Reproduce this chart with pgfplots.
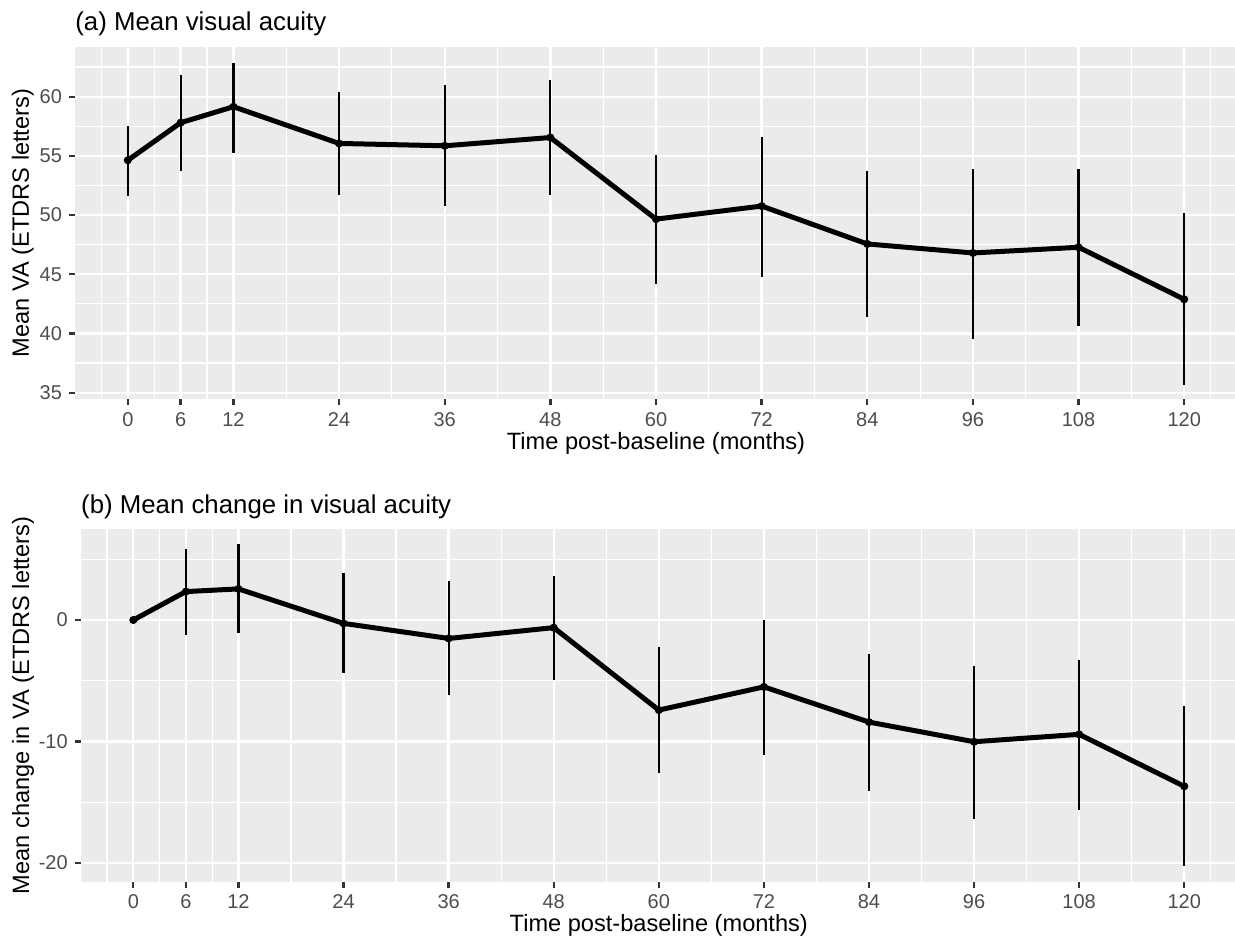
\documentclass[border=0pt]{standalone}
\usepackage{pgfplots}
\pgfplotsset{compat=1.18}
\usepackage{pgfplotstable}
\usepackage{fontspec}
\setmainfont{Liberation Sans}
\definecolor{panelbg}{HTML}{EBEBEB}
\definecolor{tickcol}{HTML}{333333}
\definecolor{ticklab}{HTML}{4D4D4D}

% month, mean, error up, error down
\pgfplotstableread{
x    y      ep    em
0    54.63  2.91  3.02
6    57.80  4.04  4.07
12   59.15  3.73  3.87
24   56.05  4.35  4.33
36   55.85  5.11  5.06
48   56.55  4.86  4.88
60   49.66  5.45  5.47
72   50.76  5.81  5.96
84   47.56  6.18  6.18
96   46.80  7.13  7.25
108  47.28  6.60  6.61
120  42.89  7.25  7.27
}\vadata

\pgfplotstableread{
x    y       ep    em
0    0.00    0.00  0.00
6    2.34    3.53  3.58
12   2.56    3.67  3.61
24   -0.28   4.11  4.05
36   -1.52   4.74  4.68
48   -0.63   4.29  4.33
60   -7.42   5.17  5.18
72   -5.51   5.51  5.59
84   -8.41   5.62  5.70
96   -10.03  6.28  6.35
108  -9.42   6.13  6.20
120  -13.70  6.58  6.57
}\chgdata

\pgfplotsset{
  gg/.style={
    scale only axis,
    anchor=north west,
    axis background/.style={fill=panelbg},
    axis line style={draw=none},
    grid=both,
    major grid style={white, line width=1.15pt},
    minor grid style={white, line width=0.58pt},
    xmin=-6, xmax=126,
    xtick={0,6,12,24,36,48,60,72,84,96,108,120},
    minor xtick={-3,3,9,18,30,42,54,66,78,90,102,114,123},
    tick align=outside,
    major tick length=3pt,
    minor tick length=0pt,
    xtick pos=left, ytick pos=left,
    tick style={draw=tickcol, line width=1.15pt},
    ticklabel style={font=\fontsize{10}{11}\selectfont, text=ticklab},
    /pgf/number format/assume math mode=true,
    label style={font=\fontsize{11.8}{13}\selectfont},
    xlabel style={at={(axis description cs:0.5,-0.141)}, anchor=base},
    title style={font=\fontsize{12.9}{15}\selectfont, at={(axis description cs:0,1)},
      anchor=base west, inner sep=0pt, yshift=2pt},
    xlabel={Time post-baseline (months)},
  },
  ebar/.style={draw=none, mark=none, forget plot,
    error bars/.cd, y dir=both, y explicit, error mark=none,
    error bar style={draw=black, line width=1.1pt, solid}},
  mline/.style={black, line width=2.5pt, mark=*, mark size=1.8pt,
    mark options={line width=0.4pt, fill=black}},
}

\begin{document}
\begin{tikzpicture}
\begin{axis}[gg,
  at={(37.5pt,-23.35pt)}, width=581pt, height=176.3pt,
  ymin=34.44, ymax=64.22,
  ytick={35,40,45,50,55,60},
  minor ytick={37.5,42.5,47.5,52.5,57.5,62.5},
  ylabel={Mean VA (ETDRS letters)},
  ylabel style={at={(axis description cs:-0.045,0.5)}, anchor=center},
  title={(a) Mean visual acuity},
]
\addplot[ebar] table[x=x, y=y, y error plus=ep, y error minus=em] {\vadata};
\addplot[mline] table[x=x, y=y] {\vadata};
\end{axis}

\begin{axis}[gg,
  at={(40.4pt,-264.65pt)}, width=578pt, height=176.2pt,
  ymin=-21.56, ymax=7.47,
  ytick={-20,-10,0},
  minor ytick={-15,-5,5},
  ylabel={Mean change in VA (ETDRS letters)},
  ylabel style={at={(axis description cs:-0.05,0.5)}, anchor=center},
  title={(b) Mean change in visual acuity},
]
\addplot[ebar] table[x=x, y=y, y error plus=ep, y error minus=em] {\chgdata};
\addplot[mline] table[x=x, y=y] {\chgdata};
\end{axis}
\pgfresetboundingbox
\path (0,0) rectangle (617.5pt,-471pt);
\end{tikzpicture}
\end{document}
